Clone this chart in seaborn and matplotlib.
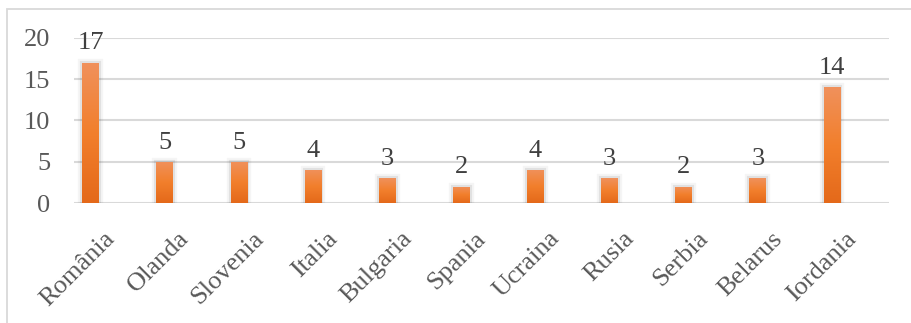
import numpy as np
import pandas as pd
import matplotlib
matplotlib.use("Agg")
import matplotlib.pyplot as plt
import matplotlib.patheffects as pe
import matplotlib.transforms as mtransforms
from matplotlib.colors import LinearSegmentedColormap
from matplotlib.patches import Rectangle
import seaborn as sns

countries = ["România", "Olanda", "Slovenia", "Italia", "Bulgaria", "Spania",
             "Ucraina", "Rusia", "Serbia", "Belarus", "Iordania"]
counts = [17, 5, 5, 4, 3, 2, 4, 3, 2, 3, 14]
y_ticks = [0, 5, 10, 15, 20]

df = pd.DataFrame({"country": countries, "count": counts})

sns.set_theme(style="white")
plt.rcParams["font.family"] = ["Liberation Serif", "DejaVu Serif"]

W, H = 911, 323
FS = 19
fig = plt.figure(figsize=(W / 100, H / 100), dpi=100)
ax = fig.add_axes([74 / W, 1 - 203.3 / H, (889 - 74) / W, (203.3 - 37.7) / H])

sns.barplot(data=df, x="country", y="count", color="#F07F2E", width=0.225,
            saturation=1, ax=ax, zorder=3)

# vertical orange gradient on each bar, light at top, darker at the base
grad_cmap = LinearSegmentedColormap.from_list(
    "bar_grad", ["#E4691A", "#F27F2C", "#F0915C"])
grad = np.linspace(0, 1, 256).reshape(-1, 1)
for patch in ax.patches:
    x0, y0 = patch.get_x(), patch.get_y()
    w, h = patch.get_width(), patch.get_height()
    patch.set_edgecolor("none")
    patch.set_path_effects([
        pe.SimplePatchShadow(offset=(0, -1.5), shadow_rgbFace="black", alpha=0.06, rho=1),
        pe.Stroke(linewidth=6, foreground=(0, 0, 0, 0.04)),
        pe.Stroke(linewidth=3, foreground=(0, 0, 0, 0.08)),
        pe.Normal(),
    ])
    im = ax.imshow(grad, cmap=grad_cmap, origin="lower", aspect="auto",
                   extent=(x0, x0 + w, y0, y0 + h), zorder=4)
    im.set_clip_path(patch)

# value labels above bars
for i, v in enumerate(counts):
    ax.annotate(str(v), (i, v), xytext=(0, 6), textcoords="offset points",
                ha="center", va="bottom", fontsize=FS, color="#404040")

ax.set_xlim(-0.225, 10.77)
ax.set_ylim(0, 20)
ax.set_yticks(y_ticks)
ax.set_xlabel("")
ax.set_ylabel("")
ax.grid(axis="y", color="#D9D9D9", linewidth=1.5, zorder=0)
ax.set_axisbelow(True)
for s in ax.spines.values():
    s.set_visible(False)

ax.tick_params(axis="y", length=0, pad=17, labelsize=FS, labelcolor="#595959")
ax.tick_params(axis="x", length=0, pad=0, labelsize=FS, labelcolor="#595959")

offset = mtransforms.ScaledTranslation(21 / 100, -32 / 100, fig.dpi_scale_trans)
for lab in ax.get_xticklabels():
    lab.set_rotation(45)
    lab.set_ha("right")
    lab.set_va("center")
    lab.set_rotation_mode("anchor")
    lab.set_transform(lab.get_transform() + offset)

# chart frame
fig.patches.append(Rectangle((7 / W, -0.1), 1.2, 1.1 - 9 / H,
                             transform=fig.transFigure, fill=False,
                             edgecolor="#D9D9D9", linewidth=1.3))

fig.savefig("out.png", dpi=100)
